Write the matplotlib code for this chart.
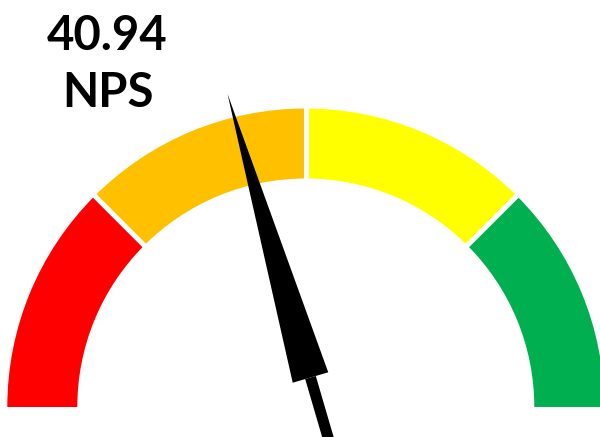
import numpy as np
import matplotlib
matplotlib.use("Agg")
import matplotlib.pyplot as plt
from matplotlib.patches import Wedge, Polygon

# gauge data
nps_value = 40.94
band_edges = [0, 25, 50, 75, 100]
band_colors = ["#FF0000", "#FFC000", "#FFFF00", "#00B050"]
label = "NPS"

def to_angle(v):
    # 0 -> 180 deg (left), 100 -> 0 deg (right)
    return 180.0 - v * 180.0 / 100.0

R_OUT = 1.0
R_IN = 0.7655
PX = 298.5  # pixels per data unit

fig = plt.figure(figsize=(6.0, 4.37), dpi=100)
ax = fig.add_axes([0, 0, 1, 1])
ax.set_xlim(-305.8 / PX, 294.2 / PX)
ax.set_ylim(-30 / PX, 407 / PX)
ax.set_aspect("auto")
ax.axis("off")

# coloured bands
for lo, hi, c in zip(band_edges[:-1], band_edges[1:], band_colors):
    ax.add_patch(Wedge((0, 0), R_OUT, to_angle(hi), to_angle(lo),
                       width=R_OUT - R_IN, facecolor=c, edgecolor="none"))

# white gaps between bands
for v in band_edges[1:-1]:
    a = np.radians(to_angle(v))
    ax.plot([0.7 * np.cos(a), 1.05 * np.cos(a)], [0.7 * np.sin(a), 1.05 * np.sin(a)],
            color="white", lw=3.6, solid_capstyle="butt")

# needle
a = np.radians(to_angle(nps_value))
d = np.array([np.cos(a), np.sin(a)])
n = np.array([-d[1], d[0]])
pivot = np.array([0.0157, 0.0988])
tip = pivot + 0.99 * d
head = Polygon([tip, pivot + 0.062 * n, pivot - 0.062 * n], closed=True,
               facecolor="black", edgecolor="none")
ax.add_patch(head)
shaft = Polygon([pivot + 0.0185 * n, pivot - 0.0185 * n,
                 pivot - 0.0185 * n - 0.4 * d, pivot + 0.0185 * n - 0.4 * d],
                closed=True, facecolor="black", edgecolor="none")
ax.add_patch(shaft)

fig.text(107 / 600, 1 - 36 / 437, f"{nps_value:.2f}", ha="center", va="center",
         fontsize=34, fontweight="bold", family=["Lato", "DejaVu Sans"])
fig.text(108 / 600, 1 - 93 / 437, label, ha="center", va="center",
         fontsize=34, fontweight="bold", family=["Lato", "DejaVu Sans"])

fig.savefig("out.png", dpi=100)
